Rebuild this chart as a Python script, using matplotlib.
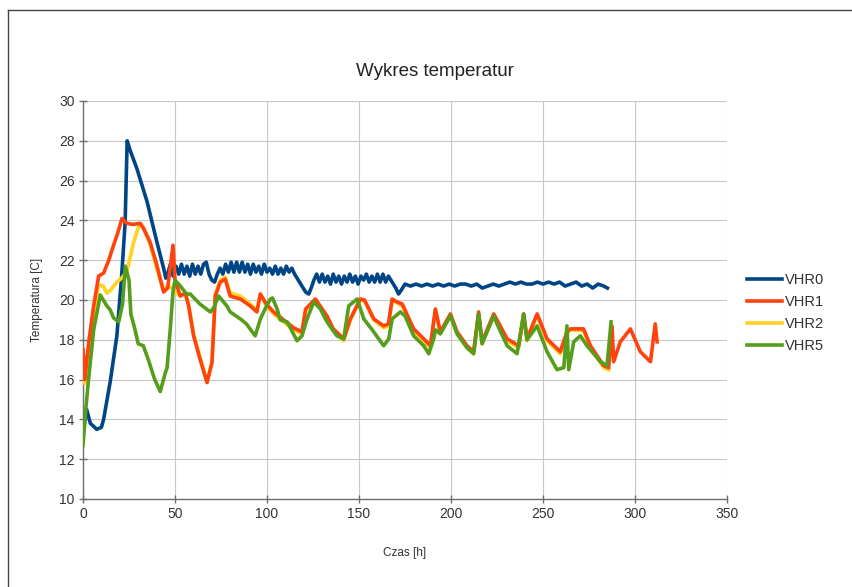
import matplotlib
matplotlib.use("Agg")
import matplotlib.pyplot as plt
from matplotlib.lines import Line2D

plt.rcParams['font.family'] = ['Liberation Sans', 'DejaVu Sans']

# --- data (hours, degrees C) ---
vhr0_h = [0, 1, 2, 4, 7.5, 10, 11.2, 14.8, 18.4, 21, 22.9, 24, 25.7, 29.3, 34.8, 40.2, 43.8, 45,
          46, 47.5, 49, 50.5, 52, 53.5, 55, 56.5, 58, 59.5, 61, 62.5, 64, 65.5, 67, 68.5, 70, 71.5,
          73, 74.5, 76, 77.5, 79, 80.5, 82, 83.5, 85, 86.5, 88, 89.5, 91, 92.5, 94, 95.5, 97, 98.5,
          100, 101.5, 103, 104.5, 106, 107.5, 109, 110.5, 112, 113.5, 115, 117, 119, 121, 122.7,
          124, 125.5, 127, 128.5, 130, 131.5, 133, 134.5, 136, 137.5, 139, 140.5, 142, 143.5, 145,
          146.5, 148, 149.5, 151, 152.5, 154, 155.5, 157, 158.5, 160, 161.5, 163, 164.5, 166, 168,
          170, 171.5, 173, 175, 178, 181, 184, 187, 190, 193, 196, 199, 202, 205, 208, 211, 214,
          217, 220, 223, 226, 229, 232, 235, 238, 241, 244, 247, 250, 253, 256, 259, 262, 265, 268,
          271, 274, 277, 280, 283, 285]
vhr0_t = [13.3, 14.0, 14.5, 13.8, 13.5, 13.6, 14.0, 15.9, 18.2, 21.2, 23.9, 28.0, 27.5, 26.6, 24.95,
          22.9, 21.6, 21.1,
          21.3, 21.8, 21.2, 21.7, 21.3, 21.8, 21.3, 21.7, 21.2, 21.8, 21.3, 21.7, 21.3, 21.8, 21.9,
          21.3, 21.0, 20.9, 21.3, 21.6, 21.3, 21.8, 21.4, 21.9, 21.4, 21.9, 21.4, 21.9, 21.4, 21.8,
          21.3, 21.8, 21.4, 21.7, 21.3, 21.8, 21.4, 21.6, 21.3, 21.7, 21.3, 21.6, 21.3, 21.7, 21.4,
          21.6, 21.3, 21.0, 20.7, 20.4, 20.3, 20.6, 21.0, 21.3, 20.9, 21.3, 20.9, 21.2, 20.8, 21.3,
          20.9, 21.2, 20.8, 21.2, 20.9, 21.3, 20.9, 21.2, 20.8, 21.2, 21.0, 21.3, 20.9, 21.2, 20.9,
          21.3, 20.9, 21.3, 20.9, 21.2, 20.9, 20.6, 20.3, 20.5, 20.8, 20.7, 20.8, 20.7, 20.8, 20.7,
          20.8, 20.7, 20.8, 20.7, 20.8, 20.8, 20.7, 20.8, 20.6, 20.7, 20.8, 20.7, 20.8, 20.9, 20.8,
          20.9, 20.8, 20.8, 20.9, 20.8, 20.9, 20.8, 20.9, 20.7, 20.8, 20.9, 20.7, 20.8, 20.6, 20.8,
          20.7, 20.6]

vhr1_h = [0, 1, 3, 5.8, 8.5, 11.2, 14, 16.6, 19, 21.2, 23.9, 27, 31.1, 32.9, 36.5, 40, 43.8, 46,
          48.9, 50, 52.9, 55.6, 57.4, 60.1, 63.7, 67.4, 70.1, 71.9, 74.6, 77.3, 80, 85.5, 90.9, 94.5,
          96.4, 99.6, 103.6, 109, 114.5, 119, 121, 126.3, 132.6, 136, 141.7, 145.3, 150.7, 153, 158,
          163.4, 166, 168, 170.7, 173.5, 179.7, 185.2, 188.8, 191.5, 194.2, 199.7, 203.3, 208.7,
          212.3, 215, 216.9, 223.2, 225, 230.5, 236.8, 239.5, 241.3, 246.8, 252.2, 259.4, 263,
          264.9, 272, 275.8, 283, 285.7, 287.5, 288.4, 292, 297.5, 302.9, 308.4, 311, 312]
vhr1_t = [17.5, 16.0, 17.8, 19.7, 21.2, 21.35, 22.0, 22.75, 23.4, 24.1, 23.85, 23.8, 23.85, 23.6,
          22.9, 21.8, 20.4, 20.6, 22.75, 21.0, 20.2, 20.35, 19.7, 18.2, 17.0, 15.85, 16.85, 20.2,
          20.9, 21.05, 20.2, 20.05, 19.7, 19.4, 20.3, 19.8, 19.4, 19.0, 18.6, 18.4, 19.55, 20.05,
          19.2, 18.55, 18.05, 19.05, 20.05, 20.0, 19.05, 18.7, 18.8, 20.05, 19.9, 19.8, 18.55,
          18.05, 17.7, 19.55, 18.4, 19.3, 18.4, 17.7, 17.4, 19.4, 17.9, 19.3, 19.0, 18.05, 17.7,
          19.3, 18.05, 19.3, 18.05, 17.4, 18.4, 18.55, 18.55, 17.7, 16.7, 16.6, 18.7, 16.9, 17.9,
          18.55, 17.4, 16.9, 18.8, 17.9]

vhr2_h = [0, 1, 3, 5.8, 8.5, 11, 13, 15, 18.5, 21, 23.9, 27.5, 30.2, 31.5, 33, 36.5, 40, 43.8, 46,
          48.5, 50, 52.9, 55.6, 57.4, 60.1, 63.7, 67.4, 70.1, 71.9, 74.6, 77.3, 80, 85.5, 90.9, 94.5,
          96.4, 99.6, 103.6, 109, 114.5, 119, 121, 126.3, 132.6, 136, 141.7, 145.3, 150.7, 153, 158,
          163.4, 166, 168, 170.7, 173.5, 179.7, 185.2, 188.8, 191.5, 194.2, 199.7, 203.3, 208.7,
          212.3, 215, 216.9, 223.2, 225, 230.5, 236.8, 239.5, 241.3, 246.8, 252.2, 259.4, 263,
          264.9, 272, 275.8, 283, 285.7]
vhr2_t = [17.3, 15.8, 17.5, 19.3, 20.75, 20.7, 20.35, 20.5, 20.9, 21.1, 21.45, 22.9, 23.7, 23.8,
          23.6, 22.8, 21.6, 20.5, 20.7, 20.6, 20.4, 20.2, 20.3, 19.8, 18.3, 17.1, 15.9, 16.9, 20.3,
          21.0, 21.15, 20.35, 20.2, 19.8, 19.5, 20.3, 19.7, 19.3, 18.9, 18.5, 18.3, 19.5, 20.0,
          19.1, 18.45, 17.95, 19.0, 20.0, 19.95, 19.0, 18.6, 18.7, 20.0, 19.85, 19.7, 18.45, 17.95,
          17.6, 19.5, 18.3, 19.25, 18.3, 17.6, 17.3, 19.3, 17.8, 19.25, 18.95, 17.95, 17.6, 19.25,
          17.95, 19.25, 17.95, 17.3, 18.3, 18.5, 18.45, 17.6, 16.6, 16.5]

vhr5_h = [0, 1.5, 3, 5.8, 9.4, 13, 14.8, 16.6, 19.4, 21.5, 23, 25, 26, 28.3, 30, 32.8, 35.5, 39,
          42, 44.6, 45.7, 47.4, 48.9, 50, 52.9, 56.3, 58.3, 63.5, 69.2, 71, 73.7, 78.2, 80, 85.5,
          88.8, 93.6, 96.4, 98.7, 101.8, 103, 105.5, 107.2, 111, 116.3, 119, 121.8, 125.4, 129,
          132.6, 138, 141.7, 144.4, 149, 152.6, 158, 163.4, 166.2, 168, 172.5, 175, 179.7, 185.2,
          187.9, 190.6, 191.5, 194.2, 199.7, 203.3, 208.7, 212.3, 215, 216.9, 223.2, 225, 230.5,
          235.9, 239.5, 241.3, 246.8, 252.2, 257.6, 261.3, 263, 264, 266.7, 270.3, 273.9, 281.2,
          284.8, 287]
vhr5_t = [12.7, 14.5, 16.0, 18.5, 20.25, 19.7, 19.5, 19.1, 18.9, 19.8, 21.7, 21.0, 19.3, 18.5,
          17.8, 17.7, 17.0, 16.0, 15.4, 16.3, 16.6, 18.5, 20.4, 21.0, 20.7, 20.3, 20.3, 19.8, 19.4,
          19.6, 20.2, 19.7, 19.4, 19.05, 18.8, 18.2, 19.05, 19.5, 20.05, 20.1, 19.55, 19.0, 18.9,
          17.95, 18.2, 19.05, 19.9, 19.55, 18.9, 18.2, 18.05, 19.7, 20.05, 19.05, 18.4, 17.7,
          18.05, 19.05, 19.4, 19.2, 18.2, 17.7, 17.3, 18.05, 18.5, 18.3, 19.2, 18.3, 17.6, 17.3,
          19.3, 17.8, 19.2, 18.8, 17.7, 17.3, 19.3, 18.0, 18.7, 17.4, 16.5, 16.6, 18.7, 16.5, 17.9,
          18.2, 17.7, 16.9, 16.7, 18.9]

series_names = ["VHR0", "VHR1", "VHR2", "VHR5"]
colors = ["#004586", "#ff420e", "#ffd320", "#579d1c"]

fig = plt.figure(figsize=(8.52, 5.87), dpi=100)
ax = fig.add_axes([83 / 852, 1 - 499 / 587, (727 - 83) / 852, (499 - 101) / 587])

lw = 2.6
ax.plot(vhr0_h, vhr0_t, color=colors[0], lw=lw, zorder=3)
ax.plot(vhr2_h, vhr2_t, color=colors[2], lw=lw, zorder=4)
ax.plot(vhr1_h, vhr1_t, color=colors[1], lw=lw, zorder=5)
ax.plot(vhr5_h, vhr5_t, color=colors[3], lw=lw, zorder=6)

ax.set_xlim(0, 350)
ax.set_ylim(10, 30)
ax.set_xticks(range(0, 351, 50))
ax.set_yticks(range(10, 31, 2))
ax.grid(True, color="#c8c8c8", lw=0.8)
ax.set_axisbelow(True)
for s in ["top", "right"]:
    ax.spines[s].set_visible(False)
for s in ["left", "bottom"]:
    ax.spines[s].set_color("#6e6e6e")
    ax.spines[s].set_linewidth(1)
ax.tick_params(direction="inout", length=6, width=1, color="#6e6e6e",
               labelsize=10, labelcolor="#333333", pad=3)

fig.text(435 / 852, 1 - 72 / 587, "Wykres temperatur", ha="center", va="center",
         fontsize=13.5, color="#222222")
fig.text(405 / 852, 1 - 553 / 587, "Czas [h]", ha="center", va="center",
         fontsize=8.5, color="#333333")
fig.text(37 / 852, 1 - 300 / 587, "Temperatura [C]", ha="center", va="center",
         rotation=90, fontsize=8.5, color="#333333")

handles = [Line2D([], [], color=c, lw=lw) for c in colors]
fig.legend(handles, series_names, loc="upper left",
           bbox_to_anchor=(747 / 852, 1 - 273 / 587), frameon=False,
           fontsize=10.5, handlelength=2.4, handletextpad=0.2,
           labelspacing=0.54, borderpad=0, borderaxespad=0, labelcolor="#333333")

# outer frame (left and top edges only are inside the picture)
fig.add_artist(Line2D([8 / 852, 8 / 852], [0, 1 - 10 / 587], color="#444444", lw=1,
                      transform=fig.transFigure))
fig.add_artist(Line2D([8 / 852, 1], [1 - 10 / 587, 1 - 10 / 587], color="#444444", lw=1,
                      transform=fig.transFigure))

fig.savefig("out.png", dpi=100)
